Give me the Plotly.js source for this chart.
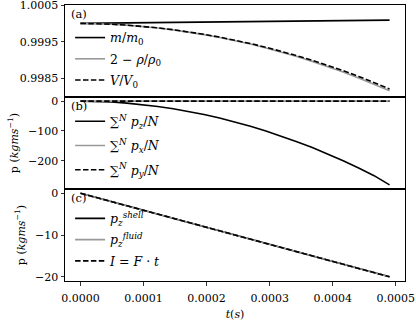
<!DOCTYPE html>
<html>
<head>
<meta charset="utf-8">
<script src="https://cdn.plot.ly/plotly-3.0.1.min.js"></script>
<style>
  html, body { margin: 0; padding: 0; background: #fff; }
  #plot { width: 416px; height: 325px; }
</style>
</head>
<body>
<div id="plot"></div>
<script>
// time samples (s)
var t = [0, 0.0000245, 0.000049, 0.0000735, 0.000098, 0.0001225, 0.000147, 0.0001715, 0.000196, 0.0002205,
         0.000245, 0.0002695, 0.000294, 0.0003185, 0.000343, 0.0003675, 0.000392, 0.0004165, 0.000441, 0.0004655, 0.00049];

// (a) ratios
var massRatio = [1.0, 1.000004, 1.000009, 1.000013, 1.000018, 1.000022, 1.000027, 1.000031, 1.000036, 1.00004,
                 1.000045, 1.000049, 1.000054, 1.000058, 1.000063, 1.000067, 1.000072, 1.000076, 1.000081, 1.000085, 1.00009];
var densRatio = [1.0, 0.999994, 0.999977, 0.999952, 0.999918, 0.999875, 0.999824, 0.999764, 0.999696, 0.999619,
                 0.999533, 0.999438, 0.999334, 0.999221, 0.9991, 0.998968, 0.998828, 0.998678, 0.998519, 0.998351, 0.99817];
var volRatio = [1.0, 0.999994, 0.999978, 0.999953, 0.99992, 0.999878, 0.999828, 0.99977, 0.999703, 0.999628,
                0.999544, 0.999452, 0.999352, 0.999242, 0.999124, 0.998996, 0.99886, 0.998714, 0.99856, 0.998396, 0.99822];

// (b) mean momentum components
var pz = [0, -0.8, -3.0, -6.5, -11.4, -17.7, -25.3, -34.3, -44.7, -56.5,
          -69.6, -84.1, -100, -117.3, -136, -156, -177.5, -200.3, -224.5, -250.2, -281];
var px = [0, 0, 0, 0, 0, 0, 0, 0, 0, 0, 0, 0, 0, 0, 0, 0, 0, 0, 0, 0, 0];
var py = [0, 0, 0, 0, 0, 0, 0, 0, 0, 0, 0, 0, 0, 0, 0, 0, 0, 0, 0, 0, 0];

// (c) shell / fluid momentum and impulse
var pShell = [0, -1, -2, -3, -4, -5, -6, -7, -8, -9, -10, -11, -12, -13, -14, -15, -16, -17, -18, -19, -20];
var pFluid = [0, -1, -2, -3, -4, -5, -6, -7, -8, -9, -10, -11, -12, -13, -14, -15, -16, -17, -18, -19, -20];
var impulse = [0, -1, -2, -3, -4, -5, -6, -7, -8, -9, -10, -11, -12, -13, -14, -15, -16, -17, -18, -19, -20];

var xTicks = [0, 0.0001, 0.0002, 0.0003, 0.0004, 0.0005];

var FONT = "DejaVu Serif, serif";
var GRAY = "#999999";
var DASH = "5.5px,2.4px";

var n = 0;
function line(x, y, name, color, dash, xa, ya, leg) {
  n++;
  return {x: x, y: y, name: name, type: "scatter", mode: "lines", legendgroup: "g" + n,
          line: {color: color, width: 1.6, dash: dash || "solid"},
          xaxis: xa, yaxis: ya, legend: leg, hoverinfo: "skip"};
}

var data = [
  line(t, massRatio, "<i>m</i>/<i>m</i><sub>0</sub>", "black", null, "x", "y", "legend"),
  line(t, densRatio, "2 − <i>ρ</i>/<i>ρ</i><sub>0</sub>", GRAY, null, "x", "y", "legend"),
  line(t, volRatio, "<i>V</i>/<i>V</i><sub>0</sub>", "black", DASH, "x", "y", "legend"),
  line(t, pz, "∑<sup><i>N</i></sup> <i>p<sub>z</sub></i>/<i>N</i>", "black", null, "x2", "y2", "legend2"),
  line(t, px, "∑<sup><i>N</i></sup> <i>p<sub>x</sub></i>/<i>N</i>", GRAY, null, "x2", "y2", "legend2"),
  line(t, py, "∑<sup><i>N</i></sup> <i>p<sub>y</sub></i>/<i>N</i>", "black", DASH, "x2", "y2", "legend2"),
  line(t, pShell, "<i>p</i><sub><i>z</i></sub><sup><i>shell</i></sup>", "black", null, "x3", "y3", "legend3"),
  line(t, pFluid, "<i>p</i><sub><i>z</i></sub><sup><i>fluid</i></sup>", GRAY, null, "x3", "y3", "legend3"),
  line(t, impulse, "<i>I</i> = <i>F</i> · <i>t</i>", "black", DASH, "x3", "y3", "legend3")
];

var xRange = [-0.0000245, 0.0005145];
function xAxis(anchor, bottom) {
  return {anchor: anchor, range: xRange, showline: true, mirror: true, linecolor: "black", linewidth: 1,
          showgrid: false, zeroline: false, ticks: bottom ? "outside" : "", ticklen: 3.5, tickwidth: 0.8,
          tickcolor: "black", tickvals: xTicks, tickformat: ".4f", showticklabels: bottom,
          ticklabelstandoff: bottom ? 3 : 0};
}
function yAxis(anchor, dom, range, ticks, fmt, title) {
  var ax = {anchor: anchor, domain: dom, range: range, showline: true, mirror: true, linecolor: "black",
            linewidth: 1, showgrid: false, zeroline: false, ticks: "outside", ticklen: 3.5, tickwidth: 0.8,
            tickcolor: "black", tickvals: ticks, tickformat: fmt, ticklabeloverflow: "allow"};
  if (title) ax.title = {text: title, standoff: 7, font: {family: FONT, size: 11}};
  return ax;
}

var yTitle = "p (<i>kgms</i><sup>−1</sup>)";
var legFont = {family: FONT, size: 12.5, color: "black"};
function leg(y, gap) {
  return {x: 0.015, y: y, xanchor: "left", yanchor: "top", bgcolor: "rgba(0,0,0,0)", borderwidth: 0,
          font: legFont, itemwidth: 30, tracegroupgap: gap};
}
function tag(txt, y) {
  return {text: txt, xref: "paper", yref: "paper", x: 0.013, y: y, xanchor: "left", yanchor: "top",
          showarrow: false, font: {family: FONT, size: 11.5, color: "black"}};
}

var layout = {
  width: 416, height: 325,
  margin: {l: 65, r: 11, t: 5, b: 44},
  paper_bgcolor: "white", plot_bgcolor: "white",
  font: {family: FONT, size: 11, color: "black"},
  showlegend: true,
  xaxis: Object.assign(xAxis("y", false), {matches: "x3"}),
  xaxis2: Object.assign(xAxis("y2", false), {matches: "x3"}),
  xaxis3: Object.assign(xAxis("y3", true), {title: {text: "<i>t</i>(<i>s</i>)", standoff: 6, font: {family: FONT, size: 11}}}),
  yaxis: yAxis("x", [2 / 3, 1], [0.998, 1.00050001], [0.9985, 0.9995, 1.0005], ".4f"),
  yaxis2: yAxis("x2", [1 / 3, 2 / 3], [-295, 14], [-200, -100, 0], "d", yTitle),
  yaxis3: yAxis("x3", [0, 1 / 3], [-21, 1], [-20, -10, 0], "d", yTitle),
  legend: leg(0.935, 2),
  legend2: leg(0.632, 5),
  legend3: leg(0.28, 2),
  annotations: [tag("(a)", 1.0), tag("(b)", 2 / 3), tag("(c)", 1 / 3)]
};

Plotly.newPlot("plot", data, layout, {staticPlot: true});
</script>
</body>
</html>
